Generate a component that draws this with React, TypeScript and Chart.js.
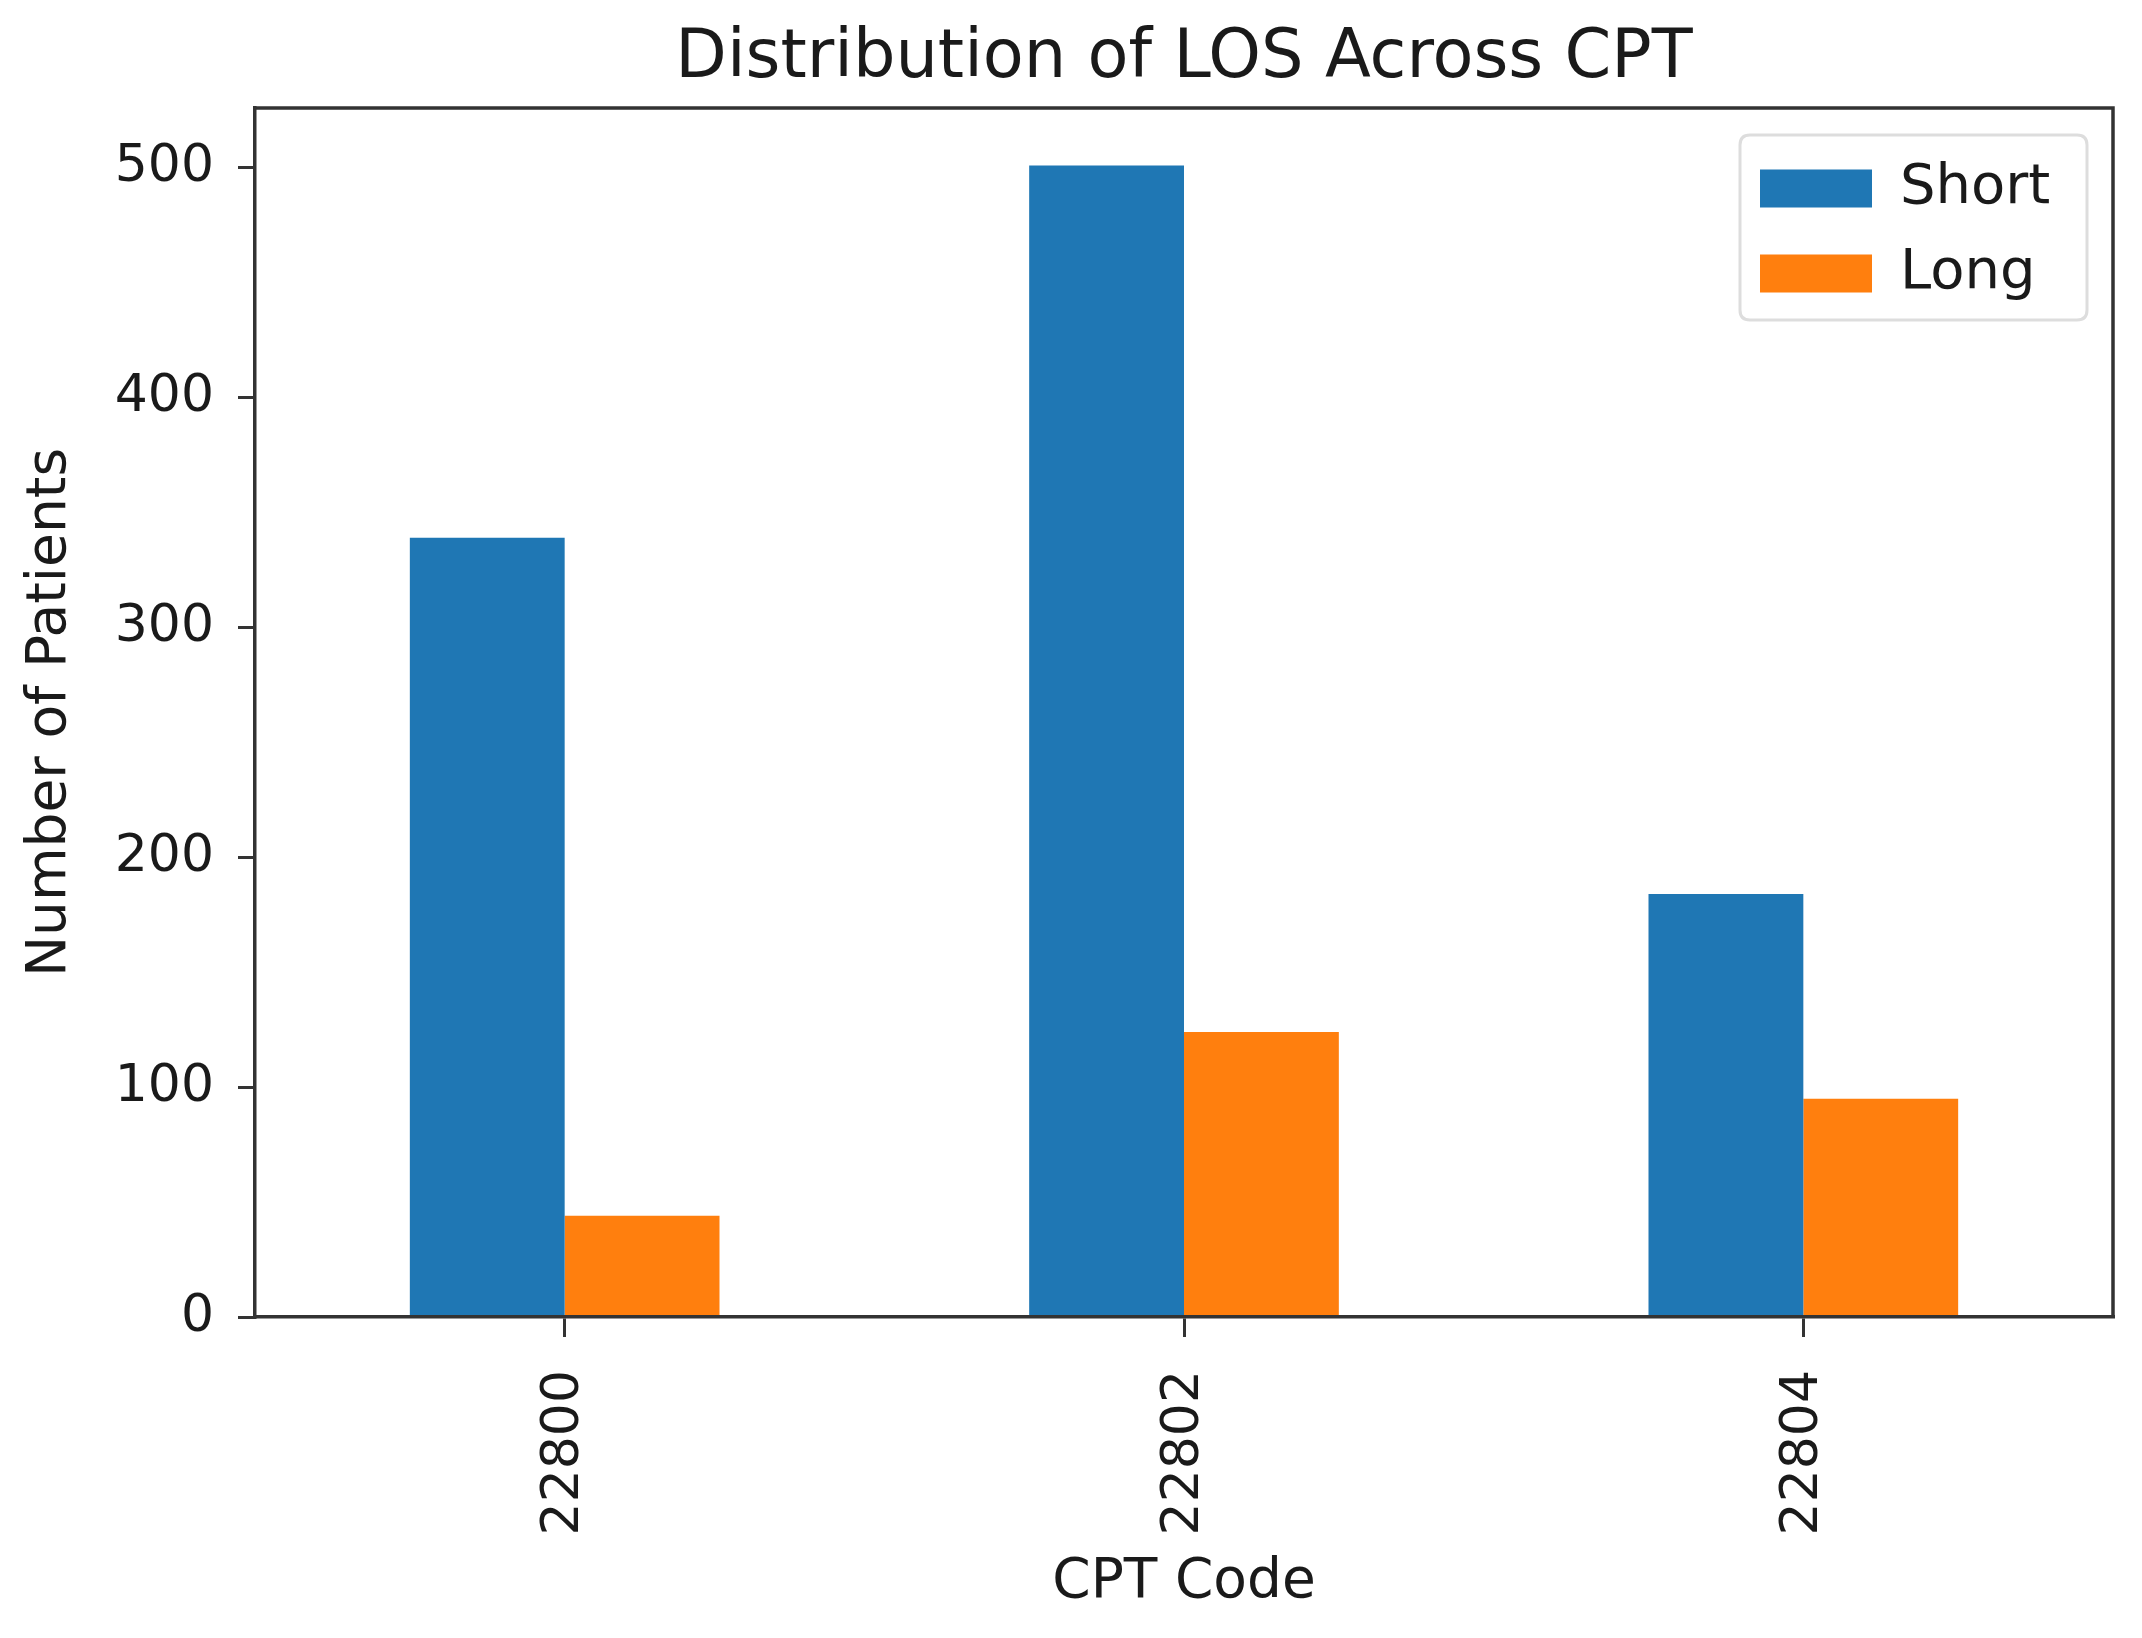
import React, { useEffect, useRef } from "react";
import { Chart, registerables } from "chart.js";

Chart.register(...registerables);

const categories = ["22800", "22802", "22804"];
const shortValues = [339, 501, 184];
const longValues = [44, 124, 95];
const yTicks = [0, 100, 200, 300, 400, 500];
const yMax = 526;

const FONT = "'DejaVu Sans', sans-serif";
const TEXT = "#1a1a1a";
const AXIS = "#333333";

const framePlugin = {
  id: "framePlugin",
  beforeDraw(chart: any) {
    const { ctx, chartArea, legend } = chart;
    // legend frame (matplotlib style, upper right)
    const fw = 347;
    const fh = 185;
    const fx = chartArea.right - 26 - fw;
    const fy = chartArea.top + 27;
    if (legend) {
      legend.left = fx + 20 - 29;
      legend.top = fy + 34 - 8.5 - 29;
    }
    ctx.save();
    ctx.beginPath();
    const r = 10;
    ctx.moveTo(fx + r, fy);
    ctx.lineTo(fx + fw - r, fy);
    ctx.quadraticCurveTo(fx + fw, fy, fx + fw, fy + r);
    ctx.lineTo(fx + fw, fy + fh - r);
    ctx.quadraticCurveTo(fx + fw, fy + fh, fx + fw - r, fy + fh);
    ctx.lineTo(fx + r, fy + fh);
    ctx.quadraticCurveTo(fx, fy + fh, fx, fy + fh - r);
    ctx.lineTo(fx, fy + r);
    ctx.quadraticCurveTo(fx, fy, fx + r, fy);
    ctx.closePath();
    ctx.fillStyle = "rgba(255,255,255,0.8)";
    ctx.fill();
    ctx.lineWidth = 3;
    ctx.strokeStyle = "#dddddd";
    ctx.stroke();
    ctx.restore();
  },
  afterDatasetsDraw(chart: any) {
    const { ctx, chartArea } = chart;
    ctx.save();
    ctx.strokeStyle = AXIS;
    ctx.lineWidth = 3.5;
    ctx.beginPath();
    ctx.moveTo(chartArea.left, chartArea.top);
    ctx.lineTo(chartArea.right, chartArea.top);
    ctx.lineTo(chartArea.right, chartArea.bottom);
    ctx.stroke();
    ctx.restore();
  },
};

export default function App() {
  const canvasRef = useRef<HTMLCanvasElement | null>(null);

  useEffect(() => {
    document.body.style.margin = "0";
    const canvas = canvasRef.current;
    if (!canvas) return;
    const chart = new Chart(canvas, {
      type: "bar",
      data: {
        labels: categories,
        datasets: [
          {
            label: "Short",
            data: shortValues,
            backgroundColor: "#1f77b4",
            borderWidth: 0,
            categoryPercentage: 0.5,
            barPercentage: 1.0,
          },
          {
            label: "Long",
            data: longValues,
            backgroundColor: "#ff7f0e",
            borderWidth: 0,
            categoryPercentage: 0.5,
            barPercentage: 1.0,
          },
        ],
      },
      options: {
        animation: false,
        responsive: true,
        maintainAspectRatio: false,
        devicePixelRatio: 1,
        layout: { padding: { left: 0, right: 29, top: 0, bottom: 0 } },
        plugins: {
          title: {
            display: true,
            text: "Distribution of LOS Across CPT",
            fullSize: false,
            color: TEXT,
            font: { family: FONT, size: 67, weight: "normal", lineHeight: 1.2 },
            padding: { top: 19, bottom: 8.6 },
          },
          legend: {
            display: true,
            position: "chartArea",
            align: "start",
            labels: {
              boxWidth: 112,
              boxHeight: 38,
              padding: 29,
              color: TEXT,
              font: { family: FONT, size: 56 },
            },
          },
          tooltip: { enabled: false },
        },
        scales: {
          x: {
            type: "category",
            offset: true,
            grid: {
              offset: false,
              drawOnChartArea: false,
              drawTicks: true,
              tickLength: 20,
              color: AXIS,
              lineWidth: 3,
            },
            border: { display: true, color: AXIS, width: 3.5, z: 1 },
            ticks: {
              color: TEXT,
              font: { family: FONT, size: 52 },
              minRotation: 90,
              maxRotation: 90,
              padding: 33,
              autoSkip: false,
            },
            title: {
              display: true,
              text: "CPT Code",
              color: TEXT,
              font: { family: FONT, size: 55, lineHeight: 1.2 },
              padding: { top: 0, bottom: 22 },
            },
            afterFit(scale: any) {
              scale.height = 321;
            },
          },
          y: {
            min: 0,
            max: yMax,
            grid: {
              drawOnChartArea: false,
              drawTicks: true,
              tickLength: 17,
              color: AXIS,
              lineWidth: 3,
            },
            border: { display: true, color: AXIS, width: 3.5, z: 1 },
            ticks: {
              color: TEXT,
              font: { family: FONT, size: 52 },
              padding: 24,
            },
            afterBuildTicks(scale: any) {
              scale.ticks = yTicks.map((v) => ({ value: v }));
            },
            title: {
              display: true,
              text: "Number of Patients",
              color: TEXT,
              font: { family: FONT, size: 55, lineHeight: 1.2 },
              padding: { top: 18, bottom: 0 },
            },
            afterFit(scale: any) {
              scale.width = 255;
            },
          },
        },
      },
      plugins: [framePlugin],
    } as any);
    return () => chart.destroy();
  }, []);

  return (
    <div style={{ position: "absolute", left: 0, top: 0, width: 2142, height: 1638, background: "#fff" }}>
      <canvas ref={canvasRef} />
    </div>
  );
}
